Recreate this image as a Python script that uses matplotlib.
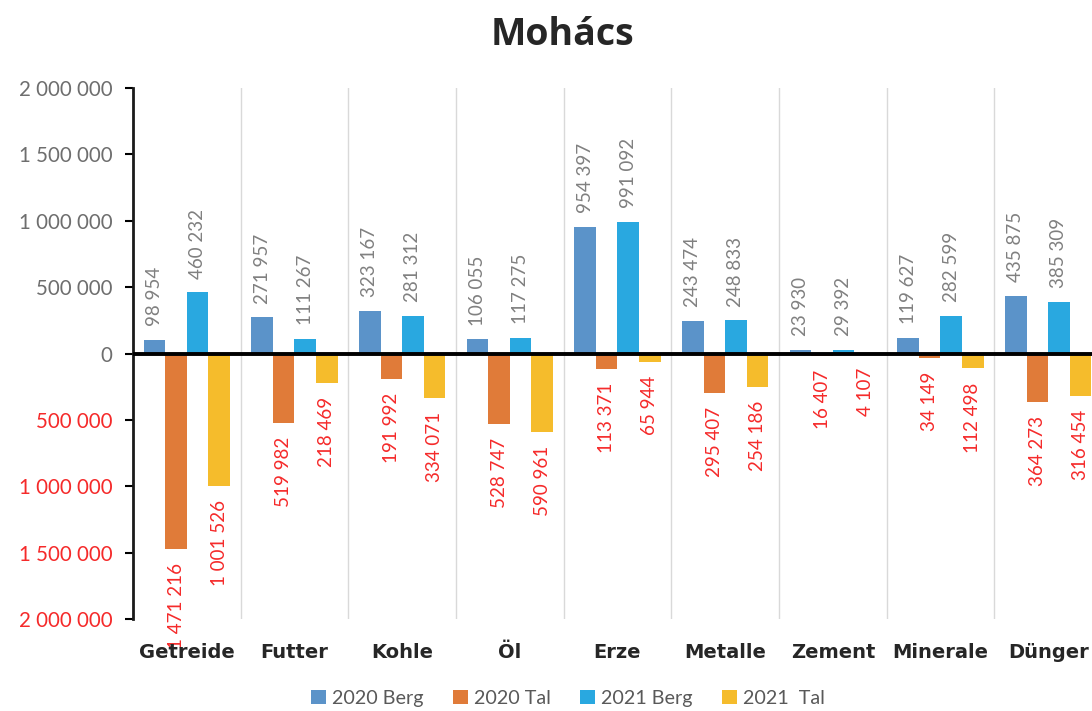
import numpy as np
import matplotlib
matplotlib.use("Agg")
import matplotlib.pyplot as plt
from matplotlib.ticker import FuncFormatter

# Mohács data (Berg = upstream, Tal = downstream)
categories = ["Getreide", "Futter", "Kohle", "Öl", "Erze", "Metalle", "Zement", "Minerale", "Dünger"]
berg_2020 = [98954, 271957, 323167, 106055, 954397, 243474, 23930, 119627, 435875]
tal_2020 = [1471216, 519982, 191992, 528747, 113371, 295407, 16407, 34149, 364273]
berg_2021 = [460232, 111267, 281312, 117275, 991092, 248833, 29392, 282599, 385309]
tal_2021 = [1001526, 218469, 334071, 590961, 65944, 254186, 4107, 112498, 316454]
series_names = ["2020 Berg", "2020 Tal", "2021 Berg", "2021  Tal"]

colors = ["#5B93C9", "#E07B39", "#29A8E0", "#F5BC2C"]
gray = "#808080"
red = "#F52A2A"

plt.rcParams['font.family'] = ['Lato', 'DejaVu Sans']

def fmt(v):
    return "{:,}".format(int(abs(v))).replace(",", " ")

fig = plt.figure(figsize=(10.92, 7.11), dpi=100)
ax = fig.add_axes([133/1092, 1-619/711, (1092-133)/1092, (619-88)/711])

x = np.arange(len(categories))
w = 0.2
# Tal values go downwards
series = [np.array(berg_2020), -np.array(tal_2020), np.array(berg_2021), -np.array(tal_2021)]
for i, vals in enumerate(series):
    pos = x + (i - 1.5) * w
    ax.bar(pos, vals, w, color=colors[i], label=series_names[i], zorder=2)
    for p, v in zip(pos, vals):
        if v >= 0:
            ax.annotate(fmt(v), (p, v), xytext=(0, 10), textcoords="offset points",
                        rotation=90, ha="center", va="bottom", color=gray, fontsize=13.5)
        else:
            ax.annotate(fmt(v), (p, v), xytext=(0, -10), textcoords="offset points",
                        rotation=90, ha="center", va="top", color=red, fontsize=13.5,
                        zorder=1)

ax.set_ylim(-2000000, 2000000)
ax.set_xlim(-0.5, 8.5 - 10/107.7)
ax.set_yticks(np.arange(-2000000, 2000001, 500000))
ax.yaxis.set_major_formatter(FuncFormatter(lambda v, p: fmt(v)))
for lbl, t in zip(ax.get_yticklabels(), ax.get_yticks()):
    lbl.set_color(red if t < 0 else "#6E6E6E")
ax.tick_params(axis="y", labelsize=14.8, length=6, width=1.5, direction="out", pad=9)

ax.set_xticks(x)
ax.set_xticklabels(categories, fontsize=14, fontweight="bold", color="#262626",
                   family="DejaVu Sans")
ax.tick_params(axis="x", length=0, pad=17)

for b in np.arange(0.5, len(categories) - 1, 1):
    ax.axvline(b, color="#D9D9D9", lw=1, zorder=0)
ax.axhline(0, color="black", lw=2.8, zorder=3)

for s in ["top", "right", "bottom"]:
    ax.spines[s].set_visible(False)
ax.spines["left"].set_linewidth(2)
ax.spines["left"].set_color("#1A1A1A")

fig.text(0.515, 0.951, "Mohács", ha="center", va="center", fontsize=27,
         fontweight="bold", color="#262626", family="Open Sans")

fig.legend(loc="center", bbox_to_anchor=(0.52, 0.018), ncol=4, frameon=False,
           fontsize=14.2, handlelength=0.75, handleheight=0.75, handletextpad=0.3,
           columnspacing=1.5, labelcolor="#595959")

fig.savefig("out.png", dpi=100)
